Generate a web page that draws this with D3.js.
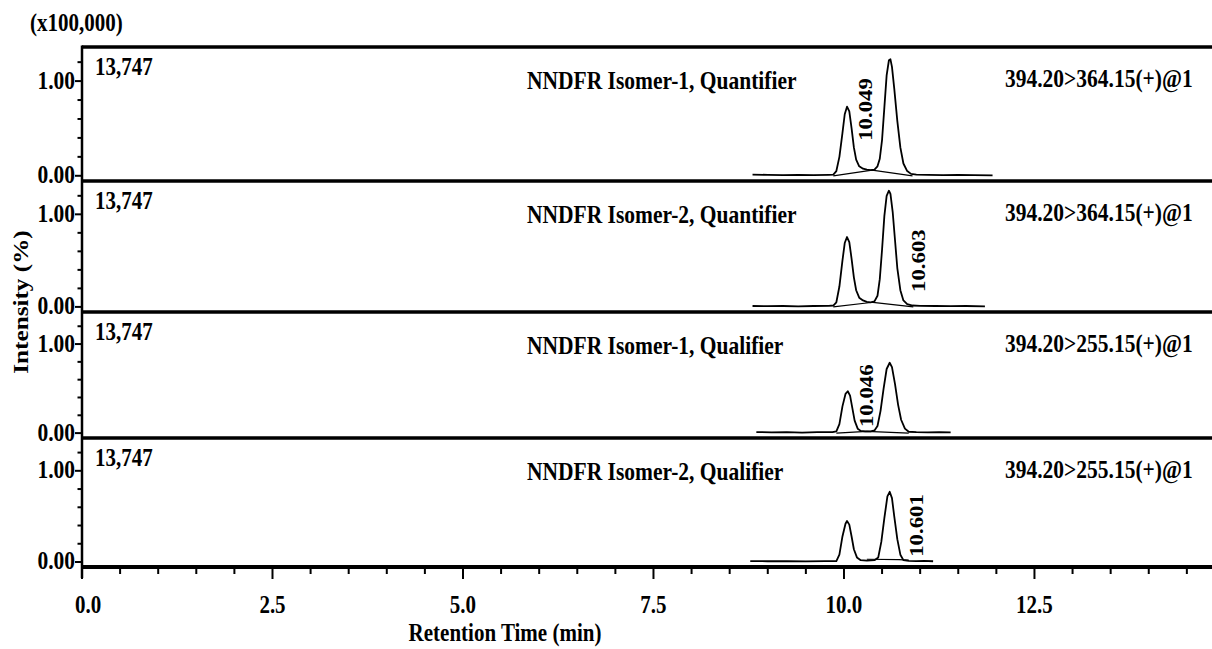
<!DOCTYPE html>
<html>
<head>
<meta charset="utf-8">
<script src="https://cdn.jsdelivr.net/npm/d3@7"></script>
<style>
  html, body { margin: 0; padding: 0; background: #fff; }
  svg text { font-family: "Liberation Serif", "Times New Roman", serif; font-weight: bold; fill: #000; }
</style>
</head>
<body>
<svg id="chart" width="1212" height="649"></svg>
<script>
// ---------------- data ----------------
const panelTitles = ["NNDFR Isomer-1, Quantifier", "NNDFR Isomer-2, Quantifier", "NNDFR Isomer-1, Qualifier", "NNDFR Isomer-2, Qualifier"];
const transitions = ["394.20>364.15(+)@1", "394.20>364.15(+)@1", "394.20>255.15(+)@1", "394.20>255.15(+)@1"];
const maxIntensity = ["13,747", "13,747", "13,747", "13,747"];
const peakLabels = ["10.049", "10.603", "10.046", "10.601"];
const peakLabelTime = [10.28, 10.98, 10.30, 10.96];
const peakLabelValue = [0.70, 0.50, 0.42, 0.40];
const xTickValues = [0, 2.5, 5, 7.5, 10, 12.5];
const xTickLabels = ["0.0", "2.5", "5.0", "7.5", "10.0", "12.5"];
const yTickValues = [0, 1];
const yTickLabels = ["0.00", "1.00"];

// chromatogram traces: [retention time (min), intensity (x100,000)]
const traceQuant1 = [
  [8.80,0.012],[9.00,0.010],[9.20,0.006],[9.40,0.010],[9.60,0.006],[9.80,0.010],[9.86,0.012],
  [9.90,0.05],[9.94,0.20],[9.98,0.45],[10.01,0.65],[10.04,0.73],[10.07,0.68],[10.10,0.50],
  [10.13,0.30],[10.16,0.17],[10.20,0.10],[10.25,0.075],[10.30,0.065],[10.35,0.06],[10.40,0.065],
  [10.44,0.10],[10.47,0.18],[10.50,0.38],[10.53,0.72],[10.56,1.06],[10.59,1.22],[10.61,1.23],
  [10.63,1.15],[10.66,0.92],[10.70,0.58],[10.74,0.30],[10.78,0.13],[10.83,0.05],[10.88,0.02],
  [10.95,0.012],[11.10,0.010],[11.30,0.008],[11.50,0.010],[11.70,0.006],[11.95,0.004]
];
const traceQuant2 = [
  [8.80,0.010],[9.00,0.008],[9.20,0.010],[9.40,0.006],[9.60,0.010],[9.80,0.012],[9.86,0.015],
  [9.90,0.05],[9.94,0.22],[9.98,0.50],[10.01,0.69],[10.04,0.755],[10.07,0.70],[10.10,0.52],
  [10.13,0.32],[10.16,0.18],[10.20,0.10],[10.25,0.07],[10.30,0.055],[10.35,0.05],[10.40,0.06],
  [10.44,0.12],[10.47,0.30],[10.50,0.62],[10.53,0.98],[10.56,1.20],[10.59,1.255],[10.61,1.22],
  [10.64,1.02],[10.67,0.72],[10.70,0.42],[10.74,0.18],[10.78,0.07],[10.83,0.03],[10.90,0.015],
  [11.00,0.012],[11.20,0.010],[11.40,0.008],[11.60,0.010],[11.85,0.006]
];
const traceQual1 = [
  [8.85,0.012],[9.05,0.008],[9.25,0.010],[9.45,0.006],[9.65,0.010],[9.85,0.010],
  [9.90,0.02],[9.94,0.10],[9.98,0.30],[10.02,0.44],[10.05,0.47],[10.08,0.42],[10.11,0.28],
  [10.14,0.14],[10.18,0.05],[10.22,0.025],[10.28,0.02],[10.35,0.02],[10.40,0.03],[10.44,0.08],
  [10.48,0.25],[10.52,0.50],[10.56,0.72],[10.60,0.79],[10.63,0.74],[10.67,0.55],[10.71,0.32],
  [10.75,0.15],[10.80,0.05],[10.85,0.015],[10.95,0.010],[11.10,0.008],[11.25,0.010],[11.40,0.008]
];
const traceQual2 = [
  [8.77,0.010],[9.00,0.008],[9.25,0.010],[9.50,0.006],[9.75,0.010],[9.90,0.010],
  [9.94,0.08],[9.98,0.28],[10.02,0.42],[10.04,0.45],[10.07,0.41],[10.10,0.28],[10.13,0.14],
  [10.17,0.05],[10.22,0.02],[10.30,0.015],[10.40,0.02],[10.45,0.05],[10.49,0.22],[10.53,0.48],
  [10.57,0.72],[10.60,0.77],[10.63,0.70],[10.66,0.50],[10.70,0.25],[10.74,0.08],[10.78,0.02],
  [10.85,0.012],[10.95,0.010],[11.05,0.012],[11.17,0.008]
];
// integration baselines drawn under the peaks
const baseQuant1 = [[9.86,0.0],[10.37,0.06],[10.90,0.0]];
const baseQuant2 = [[9.86,0.0],[10.38,0.05],[10.91,0.0]];
const baseQual1 = [[9.90,0.0],[10.30,0.02],[10.85,0.0]];
const baseQual2 = [[10.30,0.03],[10.72,0.025],[10.85,0.02]];

const traces = [traceQuant1, traceQuant2, traceQual1, traceQual2];
const baselines = [baseQuant1, baseQuant2, baseQual1, baseQual2];

// ---------------- layout ----------------
const svg = d3.select("#chart");
const left = 82, right = 1212;
const panelTops = [47, 181, 312, 438];
const panelBottoms = [181, 312, 438, 567];
const STRETCH = 1.2;

const x = d3.scaleLinear().domain([0, 14.83]).range([left, right]);

function sText(g, txt, px, py, size, anchor) {
  return g.append("text")
    .attr("transform", `translate(${px},${py}) scale(1,${STRETCH})`)
    .attr("font-size", size)
    .attr("text-anchor", anchor || "start")
    .text(txt);
}

// header
sText(svg, "(x100,000)", 30, 31, 21, "start");

const line = d3.line().x(d => x(d[0]));

traces.forEach((tr, i) => {
  const top = panelTops[i], bot = panelBottoms[i];
  const y = d3.scaleLinear().domain([-0.055, 1.36]).range([bot, top]);
  const g = svg.append("g");

  // y minor ticks
  const minor = [0.2, 0.4, 0.6, 0.8, 1.2];
  g.selectAll(".ym").data(minor).join("line")
    .attr("x1", left - 4.5).attr("x2", left)
    .attr("y1", d => y(d)).attr("y2", d => y(d))
    .attr("stroke", "#000").attr("stroke-width", 2);
  // y major ticks
  g.selectAll(".yM").data(yTickValues).join("line")
    .attr("x1", left - 7).attr("x2", left)
    .attr("y1", d => y(d)).attr("y2", d => y(d))
    .attr("stroke", "#000").attr("stroke-width", 2);
  yTickValues.forEach((v, k) => {
    sText(g, yTickLabels[k], left - 7, y(v) + 7.5, 21.5, "end");
  });

  // trace
  line.y(d => y(d[1]));
  g.append("path").datum(tr).attr("d", line)
    .attr("fill", "none").attr("stroke", "#000").attr("stroke-width", 1.8).attr("stroke-linejoin", "round");
  g.append("path").datum(baselines[i]).attr("d", line)
    .attr("fill", "none").attr("stroke", "#000").attr("stroke-width", 1.2);

  // texts
  sText(g, maxIntensity[i], 95, top + 28, 21, "start");
  sText(g, panelTitles[i], 527, top + 42, 21.5, "start");
  sText(g, transitions[i], 1005, top + 40, 21.5, "start");

  // rotated peak label
  g.append("text")
    .attr("transform", `translate(${x(peakLabelTime[i])},${y(peakLabelValue[i])}) scale(1,${STRETCH}) rotate(-90)`)
    .attr("font-size", 19)
    .attr("text-anchor", "middle")
    .attr("dominant-baseline", "central")
    .text(peakLabels[i]);

  // top border of the panel
  g.append("line").attr("x1", left).attr("x2", right)
    .attr("y1", top).attr("y2", top).attr("stroke", "#000").attr("stroke-width", 3.5);
});

// left axis line
svg.append("line").attr("x1", left).attr("x2", left)
  .attr("y1", panelTops[0] - 1.5).attr("y2", 578).attr("stroke", "#000").attr("stroke-width", 2.5);

// bottom x axis
const axisY = panelBottoms[3];
svg.append("line").attr("x1", left).attr("x2", right)
  .attr("y1", axisY).attr("y2", axisY).attr("stroke", "#000").attr("stroke-width", 4);
const minorX = d3.range(0, 30).map(k => k * 0.5).filter(v => xTickValues.indexOf(v) < 0 && x(v) <= right);
svg.selectAll(".xm").data(minorX).join("line")
  .attr("x1", d => x(d)).attr("x2", d => x(d))
  .attr("y1", axisY).attr("y2", axisY + 7)
  .attr("stroke", "#000").attr("stroke-width", 2);
svg.selectAll(".xM").data(xTickValues).join("line")
  .attr("x1", d => x(d)).attr("x2", d => x(d))
  .attr("y1", axisY).attr("y2", axisY + 12)
  .attr("stroke", "#000").attr("stroke-width", 2);
xTickValues.forEach((v, k) => {
  const px = k === 0 ? x(v) + 6 : x(v);
  sText(svg, xTickLabels[k], px, 613, 21, "middle");
});

sText(svg, "Retention Time (min)", 505, 641, 21, "middle");

// y title
svg.append("text")
  .attr("transform", `translate(21,302) rotate(-90) scale(${STRETCH},1)`)
  .attr("font-size", 21)
  .attr("text-anchor", "middle")
  .attr("dominant-baseline", "central")
  .text("Intensity (%)");
</script>
</body>
</html>
